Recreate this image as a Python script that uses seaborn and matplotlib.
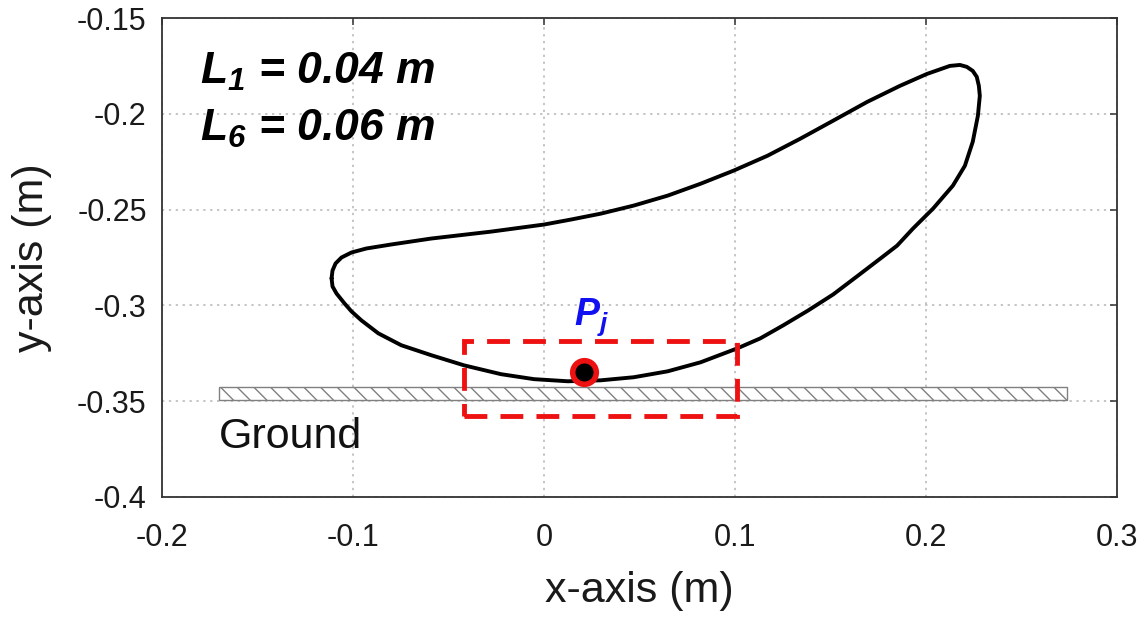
import matplotlib
matplotlib.use('Agg')
import matplotlib.pyplot as plt
import seaborn as sns
from matplotlib.patches import Rectangle

# foot trajectory, closed loop (m)
traj_x = [-0.1112, -0.1107, -0.1091, -0.1060, -0.1008, -0.0930, -0.0799, -0.0590,
          -0.0277, 0.0, 0.0141, 0.0298, 0.0470, 0.0648, 0.0820, 0.0992,
          0.1170, 0.1342, 0.1514, 0.1692, 0.1864, 0.2005, 0.2125, 0.2178,
          0.2214, 0.2245, 0.2266, 0.2277, 0.2282, 0.2277, 0.2272, 0.2245,
          0.2204, 0.2141, 0.2037, 0.1932, 0.1849, 0.1775, 0.1645, 0.1514,
          0.1384, 0.1253, 0.1133, 0.1013, 0.0820, 0.0648, 0.0470, 0.0298,
          0.0125, -0.0052, -0.0225, -0.0418, -0.0590, -0.0747, -0.0867,
          -0.0956, -0.1008, -0.1044, -0.1086, -0.1107, -0.1112]
traj_y = [-0.2859, -0.2818, -0.2781, -0.2750, -0.2724, -0.2703, -0.2682, -0.2651,
          -0.2615, -0.2578, -0.2552, -0.2521, -0.2479, -0.2427, -0.2365, -0.2297,
          -0.2219, -0.2130, -0.2036, -0.1938, -0.1854, -0.1792, -0.1750, -0.1745,
          -0.1755, -0.1776, -0.1807, -0.1854, -0.1906, -0.1958, -0.2010, -0.2146,
          -0.2271, -0.2375, -0.2495, -0.2599, -0.2688, -0.2745, -0.2844, -0.2943,
          -0.3026, -0.3104, -0.3172, -0.3224, -0.3297, -0.3344, -0.3375, -0.3391,
          -0.3396, -0.3385, -0.3359, -0.3313, -0.3260, -0.3208, -0.3146,
          -0.3078, -0.3031, -0.2990, -0.2938, -0.2901, -0.2859]

# contact point P_j
contact_x = [0.0209]
contact_y = [-0.3349]

# ground strip and highlighted region
ground_x = [-0.170, 0.274]
ground_y = [-0.3495, -0.3427]
box_x = [-0.0418, 0.1013]
box_y = [-0.3578, -0.3188]

x_ticks = [-0.2, -0.1, 0, 0.1, 0.2, 0.3]
x_labels = ['-0.2', '-0.1', '0', '0.1', '0.2', '0.3']
y_ticks = [-0.4, -0.35, -0.3, -0.25, -0.2, -0.15]
y_labels = ['-0.4', '-0.35', '-0.3', '-0.25', '-0.2', '-0.15']

sns.set_theme(style='white')
plt.rcParams['font.family'] = ['Liberation Sans', 'DejaVu Sans']
plt.rcParams['axes.unicode_minus'] = False
plt.rcParams['mathtext.fontset'] = 'custom'
plt.rcParams['mathtext.rm'] = 'Liberation Sans:italic:bold'
plt.rcParams['mathtext.it'] = 'Liberation Sans:italic:bold'
plt.rcParams['mathtext.bf'] = 'Liberation Sans:italic:bold'
plt.rcParams['hatch.linewidth'] = 1.0
plt.rcParams['hatch.color'] = '#808080'

fig = plt.figure(figsize=(11.47, 6.21), dpi=100)
ax = fig.add_axes([0.1412, 0.1997, 0.8326, 0.7713])

ax.add_patch(Rectangle((ground_x[0], ground_y[0]), ground_x[1] - ground_x[0],
                       ground_y[1] - ground_y[0], facecolor='white',
                       edgecolor='#808080', hatch='\\\\', lw=1.0, zorder=2))

sns.lineplot(x=traj_x, y=traj_y, sort=False, estimator=None, color='black',
             linewidth=2.8, ax=ax, zorder=3)
for ln in ax.lines:
    ln.set_solid_joinstyle('round')

ax.add_patch(Rectangle((box_x[0], box_y[0]), box_x[1] - box_x[0],
                       box_y[1] - box_y[0], fill=False, edgecolor='#ee1111',
                       lw=3.5, linestyle=(0, (4.7, 2.7)), zorder=4))

ax.plot(contact_x, contact_y, 'o', ms=17, mew=4, mfc='black', mec='#ee1111',
        zorder=5)

ax.text(contact_x[0] - 0.0052, -0.3103, r'$P_j$', fontsize=27, color='#1010f0',
        ha='left', va='baseline', zorder=6)
ax.text(-0.1802, -0.1844, r'$L_1$ = 0.04 m', fontsize=32, fontweight='bold',
        style='italic', ha='left', va='baseline', color='black')
ax.text(-0.1802, -0.2141, r'$L_6$ = 0.06 m', fontsize=32, fontweight='bold',
        style='italic', ha='left', va='baseline', color='black')
ax.text(-0.1702, -0.3745, 'Ground', fontsize=31, ha='left', va='baseline',
        color='#111111')

ax.set_xlim(-0.2, 0.3)
ax.set_ylim(-0.4, -0.15)
ax.set_xticks(x_ticks)
ax.set_xticklabels(x_labels)
ax.set_yticks(y_ticks)
ax.set_yticklabels(y_labels)
ax.set_xlabel('x-axis (m)', fontsize=31, labelpad=13, color='#1a1a1a')
ax.set_ylabel('y-axis (m)', fontsize=31, labelpad=18, color='#1a1a1a')

ax.grid(True, linestyle=(0, (1.5, 3)), color='#b5b5b5', lw=1.1)
ax.set_axisbelow(True)
ax.tick_params(axis='both', direction='in', length=5, width=1.1,
               top=True, right=True, labelsize=22, labelcolor='#1a1a1a',
               color='#333333')
ax.tick_params(axis='x', pad=19)
ax.tick_params(axis='y', pad=11)
for sp in ax.spines.values():
    sp.set_visible(True)
    sp.set_color('#333333')
    sp.set_linewidth(1.3)

fig.savefig('out.png', dpi=100)
